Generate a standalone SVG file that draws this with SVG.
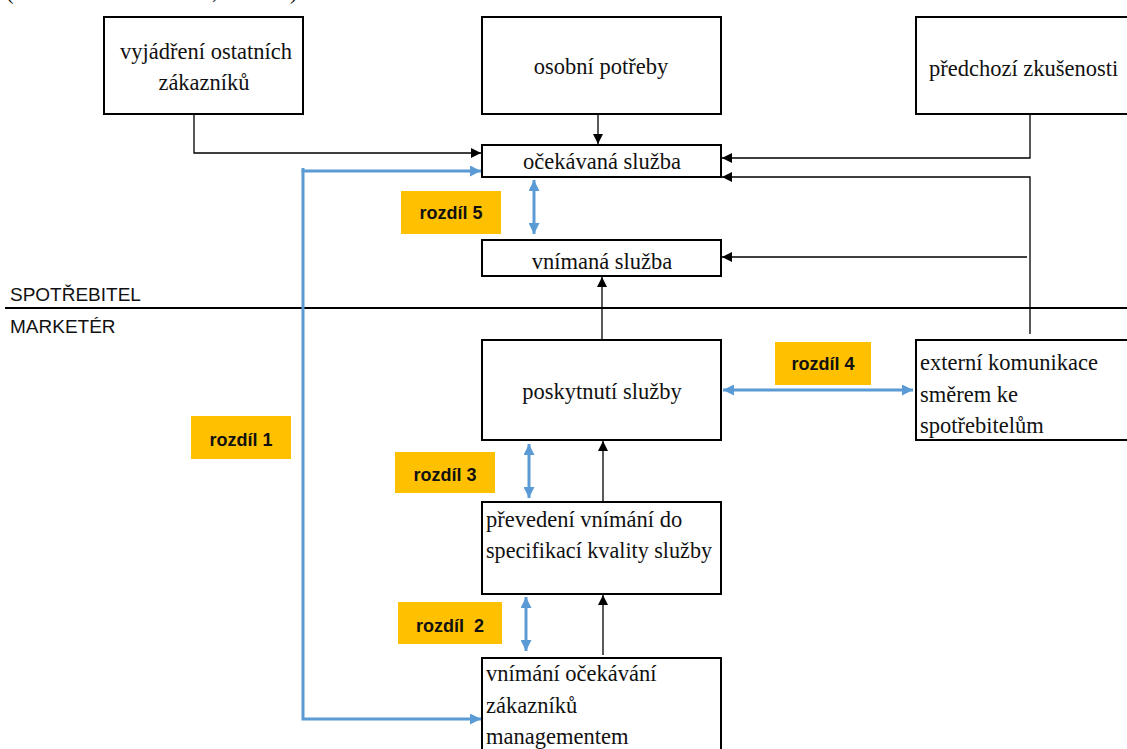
<svg xmlns="http://www.w3.org/2000/svg" width="1127" height="749" viewBox="0 0 1127 749">
<defs>
<style>
.box{fill:#fff;stroke:#000;stroke-width:2}
.t{font-family:"Liberation Serif","Times New Roman",serif;font-size:22.5px;fill:#111}
.c{text-anchor:middle}
.lbl{fill:#FFC000}
.lt{font-family:"Liberation Sans",Arial,sans-serif;font-weight:bold;font-size:18px;fill:#111;text-anchor:middle}
.side{font-family:"Liberation Sans",Arial,sans-serif;font-size:19px;fill:#111}
.k{fill:none;stroke:#000;stroke-width:1.3}
.b{fill:none;stroke:#5B9BD5;stroke-width:3}
</style>
<marker id="ak" viewBox="0 0 10 10" refX="10" refY="5" markerWidth="11" markerHeight="10" markerUnits="userSpaceOnUse" orient="auto-start-reverse"><path d="M0,0 L10,5 L0,10 z" fill="#000"/></marker>
<marker id="ab" viewBox="0 0 10 10" refX="10" refY="5" markerWidth="11" markerHeight="11" markerUnits="userSpaceOnUse" orient="auto-start-reverse"><path d="M0,0 L10,5 L0,10 z" fill="#5B9BD5"/></marker>
</defs>
<rect width="1127" height="749" fill="#fff"/>
<text class="t" x="6" y="-1">(</text>
<text class="t" x="212" y="-2">,</text>
<text class="t" x="290" y="-1">)</text>

<g id="divider">
<line x1="5" y1="308" x2="1127" y2="308" stroke="#000" stroke-width="2"/>
<text class="side" x="10" y="301">SPOTŘEBITEL</text>
<text class="side" x="10" y="333">MARKETÉR</text>
</g>

<g id="connectors">
<path class="k" d="M194,114 V153 H481" marker-end="url(#ak)"/>
<path class="k" d="M598,114 V144" marker-end="url(#ak)"/>
<path class="k" d="M1030,114 V158 H722" marker-end="url(#ak)"/>
<path class="k" d="M1030,334 V177 H722" marker-end="url(#ak)"/>
<path class="k" d="M1027,257 H722" marker-end="url(#ak)"/>
<path class="k" d="M602,340 V277" marker-end="url(#ak)"/>
<path class="k" d="M603,501 V441" marker-end="url(#ak)"/>
<path class="k" d="M603,655 V595" marker-end="url(#ak)"/>
<path class="b" d="M303,168 V171 H481" marker-end="url(#ab)"/>
<path class="b" d="M303,170 V719 H481" marker-end="url(#ab)"/>
<path class="b" d="M534,180 V234" marker-start="url(#ab)" marker-end="url(#ab)"/>
<path class="b" d="M723,390 H913" marker-start="url(#ab)" marker-end="url(#ab)"/>
<path class="b" d="M529,444 V498" marker-start="url(#ab)" marker-end="url(#ab)"/>
<path class="b" d="M526,597 V651" marker-start="url(#ab)" marker-end="url(#ab)"/>
</g>

<g id="n-vyjadreni">
<rect class="box" x="104" y="17" width="199" height="97"/>
<text class="t c" x="206" y="59">vyjádření ostatních</text>
<text class="t c" x="204" y="90">zákazníků</text>
</g>
<g id="n-osobni">
<rect class="box" x="482" y="17" width="239" height="97"/>
<text class="t c" x="601" y="74">osobní potřeby</text>
</g>
<g id="n-predchozi">
<rect class="box" x="916" y="17" width="215" height="97"/>
<text class="t" x="929" y="76">předchozí zkušenosti</text>
</g>
<g id="n-ocekavana">
<rect class="box" x="482" y="145" width="239" height="32"/>
<text class="t c" x="602" y="169">očekávaná služba</text>
</g>
<g id="n-vnimana">
<rect class="box" x="482" y="240" width="239" height="36"/>
<text class="t c" x="602" y="269">vnímaná služba</text>
</g>
<g id="n-poskytnuti">
<rect class="box" x="482" y="340" width="239" height="100"/>
<text class="t c" x="602" y="399">poskytnutí služby</text>
</g>
<g id="n-externi">
<rect class="box" x="916" y="340" width="215" height="100"/>
<text class="t" x="920" y="370">externí komunikace</text>
<text class="t" x="920" y="402">směrem ke</text>
<text class="t" x="920" y="433">spotřebitelům</text>
</g>
<g id="n-prevedeni">
<rect class="box" x="482" y="502" width="239" height="92"/>
<text class="t" x="486" y="527">převedení vnímání do</text>
<text class="t" x="486" y="558" textLength="226" lengthAdjust="spacingAndGlyphs">specifikací kvality služby</text>
</g>
<g id="n-vnimani">
<rect class="box" x="482" y="658" width="239" height="100"/>
<text class="t" x="486" y="681">vnímání očekávání</text>
<text class="t" x="486" y="713">zákazníků</text>
<text class="t" x="486" y="744">managementem</text>
</g>

<g id="l-rozdil5">
<rect class="lbl" x="401" y="191" width="100" height="43"/>
<text class="lt" x="451" y="219">rozdíl 5</text>
</g>
<g id="l-rozdil4">
<rect class="lbl" x="775" y="342" width="96" height="43"/>
<text class="lt" x="823" y="370">rozdíl 4</text>
</g>
<g id="l-rozdil1">
<rect class="lbl" x="191" y="416" width="100" height="43"/>
<text class="lt" x="241" y="446">rozdíl 1</text>
</g>
<g id="l-rozdil3">
<rect class="lbl" x="395" y="452" width="100" height="41"/>
<text class="lt" x="445" y="481">rozdíl 3</text>
</g>
<g id="l-rozdil2">
<rect class="lbl" x="398" y="602" width="104" height="42"/>
<text class="lt" x="450" y="632" xml:space="preserve">rozdíl  2</text>
</g>
</svg>
